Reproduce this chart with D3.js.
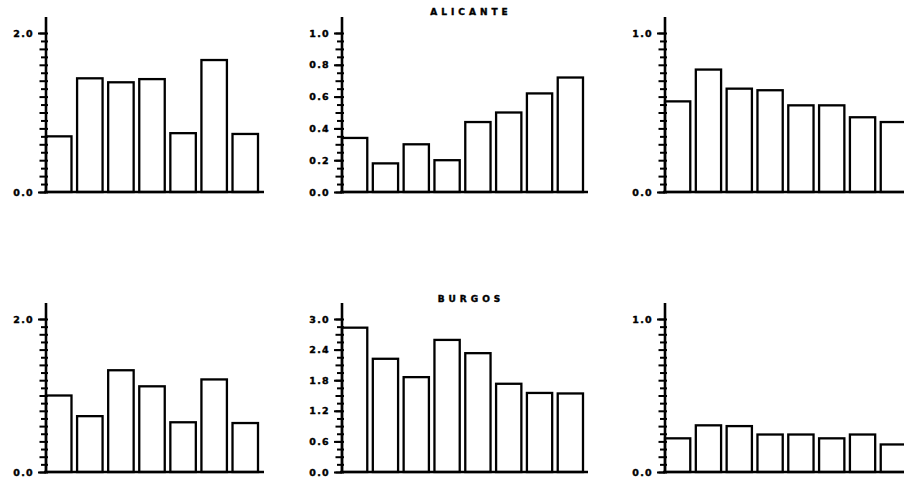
<!DOCTYPE html>
<html>
<head>
<meta charset="utf-8">
<script src="https://cdn.jsdelivr.net/npm/d3@7"></script>
<style>
  html, body { margin: 0; padding: 0; background: #fff; }
  svg { display: block; }
  text { font-family: "DejaVu Sans", sans-serif; font-weight: bold; fill: #000; }
</style>
</head>
<body>
<svg id="chart" width="904" height="482"></svg>
<script>
// ---- data ----
const titles = ["ALICANTE", "BURGOS"];

const topLeftValues     = [0.70, 1.43, 1.38, 1.42, 0.74, 1.66, 0.73];
const topMiddleValues   = [0.34, 0.18, 0.30, 0.20, 0.44, 0.50, 0.62, 0.72];
const topRightValues    = [0.57, 0.77, 0.65, 0.64, 0.545, 0.545, 0.47, 0.44];
const bottomLeftValues  = [1.00, 0.73, 1.33, 1.12, 0.65, 1.21, 0.64];
const bottomMiddleValues= [2.83, 2.22, 1.86, 2.59, 2.33, 1.73, 1.55, 1.54];
const bottomRightValues = [0.22, 0.305, 0.30, 0.245, 0.245, 0.22, 0.245, 0.18];

const topLeftTicks      = [0.0, 2.0];
const topMiddleTicks    = [0.0, 0.2, 0.4, 0.6, 0.8, 1.0];
const topRightTicks     = [0.0, 1.0];
const bottomLeftTicks   = [0.0, 2.0];
const bottomMiddleTicks = [0.0, 0.6, 1.2, 1.8, 2.4, 3.0];
const bottomRightTicks  = [0.0, 1.0];

const yMax = [2.0, 1.0, 1.0, 2.0, 3.0, 1.0];

// ---- layout ----
const svg = d3.select("#chart");
const rows = [
  { base: 192, top: 33, axisTop: 17, titleY: 15 },
  { base: 472, top: 319, axisTop: 303, titleY: 302 }
];
const cols = [
  { x0: 46,  x1: 258, xEnd: 264 },
  { x0: 342, x1: 583, xEnd: 588 },
  { x0: 665, x1: 906, xEnd: 906 }
];

const panels = [
  { r: 0, c: 0, values: topLeftValues,      ticks: topLeftTicks,      max: yMax[0] },
  { r: 0, c: 1, values: topMiddleValues,    ticks: topMiddleTicks,    max: yMax[1], title: titles[0] },
  { r: 0, c: 2, values: topRightValues,     ticks: topRightTicks,     max: yMax[2] },
  { r: 1, c: 0, values: bottomLeftValues,   ticks: bottomLeftTicks,   max: yMax[3] },
  { r: 1, c: 1, values: bottomMiddleValues, ticks: bottomMiddleTicks, max: yMax[4], title: titles[1] },
  { r: 1, c: 2, values: bottomRightValues,  ticks: bottomRightTicks,  max: yMax[5] }
];

const fmt = d3.format(".1f");

panels.forEach(p => {
  const row = rows[p.r], col = cols[p.c];
  const g = svg.append("g");

  const x = d3.scaleBand()
    .domain(d3.range(p.values.length))
    .range([col.x0, col.x1])
    .paddingInner(0.18)
    .paddingOuter(0);

  const y = d3.scaleLinear().domain([0, p.max]).range([row.base, row.top]);

  // bars
  g.selectAll("rect.bar")
    .data(p.values)
    .join("rect")
    .attr("class", "bar")
    .attr("x", (d, i) => x(i))
    .attr("width", x.bandwidth())
    .attr("y", d => y(d))
    .attr("height", d => row.base - y(d))
    .attr("fill", "#fff")
    .attr("stroke", "#000")
    .attr("stroke-width", 2.3);

  // minor ticks: 20 intervals
  const minorVals = d3.range(21).map(i => p.max * i / 20);
  const minorAxis = d3.axisLeft(y).tickValues(minorVals).tickFormat("").tickSizeOuter(0);
  const gm = g.append("g").attr("transform", `translate(${col.x0},0)`).call(minorAxis);
  gm.select(".domain").remove();
  gm.selectAll(".tick line")
    .attr("x2", (d, i) => (i % 2 === 0 ? -6.5 : -5))
    .attr("x1", 2)
    .attr("stroke", "#000")
    .attr("stroke-width", 2);

  // labelled ticks
  const majorAxis = d3.axisLeft(y).tickValues(p.ticks).tickFormat(fmt).tickSize(8).tickPadding(4).tickSizeOuter(0);
  const ga = g.append("g").attr("transform", `translate(${col.x0},0)`).call(majorAxis);
  ga.select(".domain").remove();
  ga.selectAll(".tick line").attr("stroke", "#000").attr("stroke-width", 2);
  ga.selectAll(".tick text")
    .style("font-size", "9.5px")
    .style("letter-spacing", "1.3px")
    .style("font-family", "'DejaVu Sans', sans-serif")
    .style("font-weight", "bold")
    .style("stroke", "#000")
    .style("stroke-width", "0.4px")
    .attr("fill", "#000");

  // y axis line
  g.append("line")
    .attr("x1", col.x0).attr("x2", col.x0)
    .attr("y1", row.axisTop).attr("y2", row.base + 1)
    .attr("stroke", "#000").attr("stroke-width", 2.6);

  // baseline
  g.append("line")
    .attr("x1", col.x0 - 2).attr("x2", col.xEnd)
    .attr("y1", row.base).attr("y2", row.base)
    .attr("stroke", "#000").attr("stroke-width", 2.6);

  if (p.title) {
    g.append("text")
      .attr("x", 471)
      .attr("y", row.titleY)
      .attr("text-anchor", "middle")
      .style("font-size", "9px")
      .style("letter-spacing", "4px")
      .style("stroke", "#000")
      .style("stroke-width", "0.4px")
      .text(p.title);
  }
});
</script>
</body>
</html>
